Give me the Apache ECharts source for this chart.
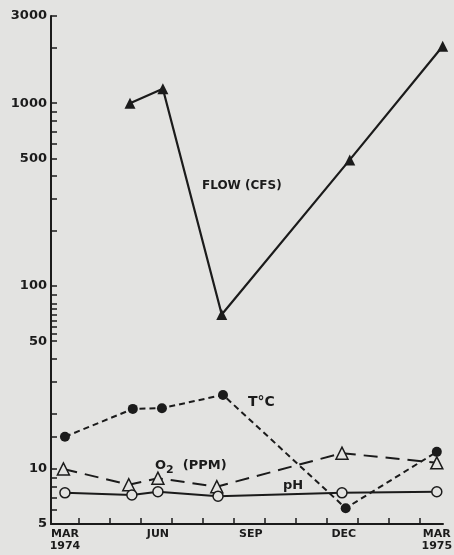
<!DOCTYPE html>
<html>
<head>
<meta charset="utf-8">
<style>
  body { margin: 0; padding: 0; background: #e3e3e1; }
  #main { width: 454px; height: 555px; }
</style>
</head>
<body>
<div id="main"></div>
<script src="https://cdn.jsdelivr.net/npm/echarts@6/dist/echarts.min.js"></script>
<script>
// months counted from March 1974 (0) to March 1975 (12)
var labelMonths = [0, 3, 6, 9, 12];
var monthLabels = ['MAR\n1974', 'JUN', 'SEP', 'DEC', 'MAR\n1975'];
var tickMonths = [0, 1, 2, 3, 4, 5, 6, 7, 8, 9, 10, 11];

var yLabelValues = [5, 10, 50, 100, 500, 1000, 3000];
var yTickValues = [5, 6, 7, 8, 9, 10, 15, 20, 30, 40, 50, 55, 60, 65, 70, 75, 80, 90,
  100, 200, 300, 400, 500, 600, 700, 800, 900, 1000, 2000, 3000];

var flowMonths = [2.1, 3.16, 5.06, 9.19, 12.19];
var flowCfs = [1000, 1200, 70, 490, 2050];

var tempMonths = [0, 2.19, 3.13, 5.1, 9.06, 12.0];
var tempC = [15, 21.3, 21.5, 25.4, 6.1, 12.4];

var o2Months = [-0.05, 2.06, 3.0, 4.9, 8.94, 12.0];
var o2Ppm = [10, 8.2, 8.9, 8.0, 12.2, 10.8];

var phMonths = [0, 2.16, 3.0, 4.94, 8.94, 12.0];
var phValues = [7.4, 7.2, 7.5, 7.1, 7.4, 7.5];

function pairs(xs, ys) {
  return xs.map(function (x, i) { return [x, ys[i]]; });
}

var ink = '#1b1b1b';
var paper = '#e3e3e1';
var font = 'DejaVu Sans';

var myChart = echarts.init(document.getElementById('main'));
myChart.setOption({
  backgroundColor: paper,
  animation: false,
  grid: { left: 51, right: 11, top: 16, bottom: 31, containLabel: false, outerBoundsMode: 'none' },
  xAxis: {
    type: 'value',
    min: -0.45,
    max: 12.2,
    splitLine: { show: false },
    axisLine: { show: true, onZero: false, lineStyle: { color: ink, width: 2 } },
    axisTick: {
      inside: true, length: 6, lineStyle: { color: ink, width: 1.5 },
      customValues: tickMonths.map(function (m) { return m + 0.45; })
    },
    axisLabel: {
      customValues: labelMonths,
      formatter: function (v) { return monthLabels[labelMonths.indexOf(Math.round(v))]; },
      color: ink, fontFamily: font, fontWeight: 'bold', fontSize: 11,
      lineHeight: 12, margin: 4
    }
  },
  yAxis: {
    type: 'log',
    logBase: 10,
    min: 5,
    max: 3000,
    splitLine: { show: false },
    axisLine: { show: true, onZero: false, lineStyle: { color: ink, width: 2 } },
    axisTick: {
      inside: true, length: 6, lineStyle: { color: ink, width: 1.5 },
      customValues: yTickValues
    },
    axisLabel: {
      customValues: yLabelValues,
      formatter: function (v) { return String(Math.round(v)); },
      color: ink, fontFamily: font, fontWeight: 'bold', fontSize: 13, margin: 4
    }
  },
  series: [
    {
      name: 'FLOW (CFS)', type: 'line', data: pairs(flowMonths, flowCfs),
      symbol: 'triangle', symbolSize: 11,
      lineStyle: { color: ink, width: 2.2 },
      itemStyle: { color: ink }
    },
    {
      name: 'T°C', type: 'line', data: pairs(tempMonths, tempC),
      symbol: 'circle', symbolSize: 10,
      lineStyle: { color: ink, width: 2, type: [6, 4] },
      itemStyle: { color: ink }
    },
    {
      name: 'O2 (PPM)', type: 'line', data: pairs(o2Months, o2Ppm),
      symbol: 'triangle', symbolSize: 12,
      lineStyle: { color: ink, width: 2, type: [14, 8] },
      itemStyle: { color: paper, borderColor: ink, borderWidth: 1.5 }
    },
    {
      name: 'pH', type: 'line', data: pairs(phMonths, phValues),
      symbol: 'circle', symbolSize: 10,
      lineStyle: { color: ink, width: 2 },
      itemStyle: { color: paper, borderColor: ink, borderWidth: 1.5 }
    }
  ],
  graphic: [
    { type: 'text', left: 202, top: 180, style: { text: 'FLOW (CFS)', fill: ink, font: 'bold 12px "DejaVu Sans"' } },
    { type: 'text', left: 248, top: 395, style: { text: 'T°C', fill: ink, font: 'bold 14px "DejaVu Sans"' } },
    {
      type: 'text', left: 155, top: 459,
      style: {
        text: 'O{s|2}  (PPM)', fill: ink, font: 'bold 13px "DejaVu Sans"',
        rich: { s: { fontSize: 11, fontWeight: 'bold', fontFamily: font, padding: [9, 0, 0, 0] } }
      }
    },
    { type: 'text', left: 283, top: 479, style: { text: 'pH', fill: ink, font: 'bold 13px "DejaVu Sans"' } }
  ]
});
</script>
</body>
</html>
